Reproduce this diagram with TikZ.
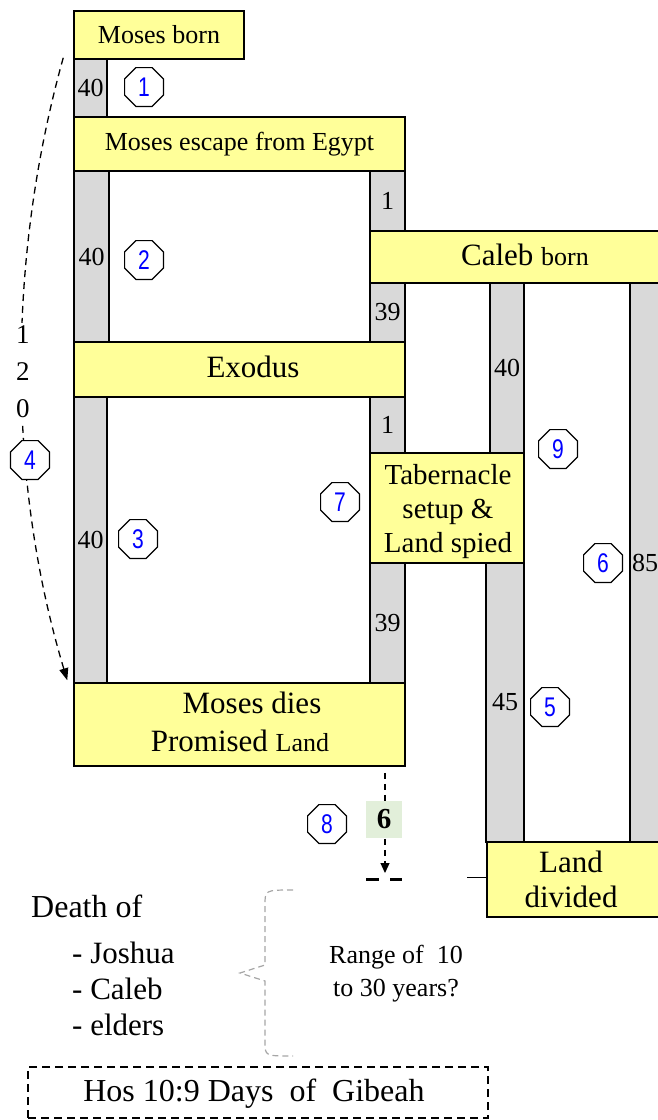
\documentclass[tikz,border=0pt]{standalone}
\usepackage{fontspec}
\usepackage{graphicx}
\setmainfont{Liberation Serif}
\newfontfamily\octfont{Liberation Sans}
\usetikzlibrary{shapes.geometric,arrows.meta,calc}
\definecolor{boxyellow}{HTML}{FFFF99}
\definecolor{bargray}{HTML}{D9D9D9}
\definecolor{sixgreen}{HTML}{E2EFDA}
\definecolor{bracegray}{HTML}{A6A6A6}
\newcommand\oct[1]{\scalebox{0.78}[1]{#1}}
\begin{document}
\begin{tikzpicture}[x=1pt,y=-1pt,
  ybox/.style={draw=black, line width=1.5pt, fill=boxyellow, inner sep=0pt},
  gbar/.style={draw=black, line width=1.5pt, fill=bargray, inner sep=0pt, font=\fontsize{26}{30}\selectfont},
  octo/.style={regular polygon, regular polygon sides=8, draw=black, line width=1.2pt, fill=white, minimum size=42pt, inner sep=0pt, text=blue, font=\octfont\fontsize{27}{30}\selectfont},
  txt/.style={inner sep=0pt, anchor=base},
  f26/.style={font=\fontsize{26}{30}\selectfont},
  f29/.style={font=\fontsize{29}{34}\selectfont},
  f31/.style={font=\fontsize{31}{35}\selectfont},
  f32/.style={font=\fontsize{32}{36}\selectfont},
  dsh/.style={dash pattern=on 7pt off 5pt, line width=1.3pt},
]
\useasboundingbox (0,0) rectangle (658,1120);

% grey bars (years)
\node[gbar, minimum width=33pt, minimum height=58pt] (b1) at (90.5,88) {40};
\node[gbar, minimum width=35pt, minimum height=171pt] (b2) at (91.5,256.5) {40};
\node[gbar, minimum width=33pt, minimum height=286pt] (b3) at (90.5,540) {40};
\node[gbar, minimum width=35pt, minimum height=60pt] (r1) at (387.5,201) {1};
\node[gbar, minimum width=35pt, minimum height=59pt] (r2) at (387.5,312.5) {39};
\node[gbar, minimum width=35pt, minimum height=56pt] (r3) at (387.5,425) {1};
\node[gbar, minimum width=35pt, minimum height=120pt] (r4) at (387.5,623) {39};
\node[gbar, minimum width=34pt, minimum height=170pt] (c40) at (507,368) {40};
\node[gbar, minimum width=38pt, minimum height=279pt] (c45) at (505,702.5) {45};
\node[gbar, minimum width=30pt, minimum height=559pt] (c85) at (645,562.5) {85};

% yellow event boxes
\node[ybox, minimum width=170pt, minimum height=48pt] (born) at (159,35) {};
\node[ybox, minimum width=331pt, minimum height=54pt] (escape) at (239.5,144) {};
\node[ybox, minimum width=310pt, minimum height=52pt] (caleb) at (525,257) {};
\node[ybox, minimum width=331pt, minimum height=55pt] (exodus) at (239.5,369.5) {};
\node[ybox, minimum width=154pt, minimum height=110pt] (tab) at (447,508) {};
\node[ybox, minimum width=331pt, minimum height=83pt] (dies) at (239.5,724.5) {};
\node[ybox, minimum width=183pt, minimum height=75pt] (divided) at (578.5,879.5) {};

% box texts
\node[txt, f26] (tborn) at (159,43) {Moses born};
\node[txt, f26] (tescape) at (239.5,150) {Moses escape from Egypt};
\node[txt, f31] (tcaleb) at (525,265) {Caleb \fontsize{26}{30}\selectfont born};
\node[txt, f31] (texodus) at (253,377) {Exodus};
\node[txt, f29] (ttab1) at (448,484) {Tabernacle};
\node[txt, f29] (ttab2) at (448,518) {setup \&};
\node[txt, f29] (ttab3) at (448,552) {Land spied};
\node[txt, f31] (tdies1) at (252,713) {Moses dies};
\node[txt, f31] (tdies2) at (240,751) {Promised \fontsize{26}{30}\selectfont Land};
\node[txt, f31] (tdiv1) at (571,872) {Land};
\node[txt, f31] (tdiv2) at (571,907) {divided};

% 120-year curved arrow
\draw[dsh, -{Triangle[length=12pt,width=9pt]}] ($(born.south west)+(-10,-2)$) .. controls (7,260) and (7,480) .. ($(dies.north west)+(-6,-2)$);
\node[fill=white, inner sep=3pt, align=center, font=\fontsize{27}{37}\selectfont] (n120) at (23,372) {1\\2\\0};

% numbered octagons
\node[octo] (o1) at (144,87) {\oct{1}};
\node[octo] (o2) at (144,260) {\oct{2}};
\node[octo] (o3) at (138,539) {\oct{3}};
\node[octo] (o4) at (30,460) {\oct{4}};
\node[octo] (o5) at (550,707) {\oct{5}};
\node[octo] (o6) at (603,563) {\oct{6}};
\node[octo] (o7) at (340,502) {\oct{7}};
\node[octo] (o8) at (327,824) {\oct{8}};
\node[octo] (o9) at (558,449) {\oct{9}};

% 6-year gap after Moses dies
\coordinate (mk) at (385,879);
\draw[dash pattern=on 6pt off 5pt, line width=1.2pt, -{Triangle[length=10pt,width=9pt]}] ($(mk |- dies.south)+(0,6)$) -- ($(mk)+(0,-6)$);
\node[fill=sixgreen, minimum width=36pt, minimum height=37pt, inner sep=0pt, font=\bfseries\fontsize{29}{32}\selectfont] (six) at (384,819.5) {6};
\draw[line width=3pt, dash pattern=on 13pt off 11pt] ($(mk)+(-19,0)$) -- ($(mk)+(17,0)$);

% short line into Land divided
\coordinate (ldl) at (467,877);
\draw[line width=1pt] (ldl) -- (ldl -| divided.west);

% death list
\node[txt, anchor=base west, f32] (death) at (31,917) {Death of};
\node[txt, anchor=base west, f31] (jos) at (72,963) {- Joshua};
\node[txt, anchor=base west, f31] (cal) at (72,999) {- Caleb};
\node[txt, anchor=base west, f31] (eld) at (72,1035) {- elders};

% brace
\draw[bracegray, line width=1.2pt, dash pattern=on 6pt off 4pt]
  (293,890) .. controls (265,890) .. (265,905) -- (265,965) -- (240,973) -- (265,981) -- (265,1042) .. controls (265,1056) .. (293,1056);
\node[txt, f26] (rng1) at (396,963) {Range of\ \ 10};
\node[txt, f26] (rng2) at (396,996) {to 30 years?};

% Hosea box
\node[draw=black, dash pattern=on 8pt off 5pt, line width=1.5pt, minimum width=460pt, minimum height=51pt, inner sep=0pt] (hos) at (258,1092.5) {};
\node[txt, f32] (thos) at (254,1101) {Hos 10:9 Days\ \ of\ \ Gibeah};
\end{tikzpicture}
\end{document}
